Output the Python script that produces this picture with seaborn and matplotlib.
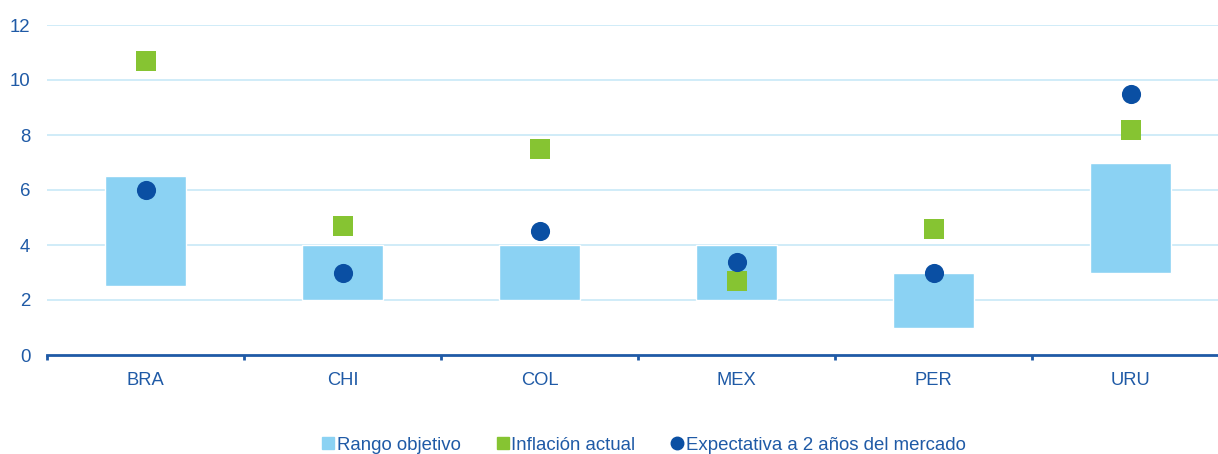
import numpy as np
import pandas as pd
import seaborn as sns
import matplotlib.pyplot as plt
from matplotlib.lines import Line2D
from matplotlib.ticker import FixedLocator

# Data
paises = ["BRA", "CHI", "COL", "MEX", "PER", "URU"]
rango_min = [2.5, 2.0, 2.0, 2.0, 1.0, 3.0]
rango_max = [6.5, 4.0, 4.0, 4.0, 3.0, 7.0]
inflacion = [10.7, 4.7, 7.5, 2.7, 4.6, 8.2]
expectativa = [6.0, 3.0, 4.5, 3.4, 3.0, 9.5]

azul_claro = "#8bd2f3"
verde = "#86c432"
azul = "#0a4fa3"
texto = "#1f5aa6"

df = pd.DataFrame({"pais": paises, "lo": rango_min,
                   "alto": np.array(rango_max) - np.array(rango_min),
                   "infl": inflacion, "exp": expectativa})

sns.set_style("white")
plt.rcParams["font.family"] = ["Liberation Sans", "DejaVu Sans"]

fig = plt.figure(figsize=(12.18, 4.54), dpi=100)
ax = fig.add_axes([47 / 1218, 99 / 454, 1 - 47 / 1218, 330 / 454])

# Target range as floating bars
sns.barplot(data=df, x="pais", y="alto", bottom=df["lo"].values, color=azul_claro,
            width=0.41, saturation=1, ax=ax, zorder=2)
sns.scatterplot(data=df, x="pais", y="infl", marker="s", s=190, color=verde,
                linewidth=0, ax=ax, zorder=3)
sns.scatterplot(data=df, x="pais", y="exp", marker="o", s=190, color=azul,
                linewidth=0, ax=ax, zorder=4)

ax.set_ylim(0, 12)
ax.set_xlim(-0.5, 5.444)
ax.set_yticks(range(0, 13, 2))
ax.set_xlabel("")
ax.set_ylabel("")

for y in range(2, 13, 2):
    ax.axhline(y, color="#c8e9f7", lw=1.2, zorder=0)

for s in ["top", "right", "left"]:
    ax.spines[s].set_visible(False)
ax.spines["bottom"].set_color(texto)
ax.spines["bottom"].set_linewidth(2)
ax.spines["bottom"].set_zorder(5)

ax.tick_params(axis="y", length=0, pad=12, labelsize=13.4, labelcolor=texto)
ax.tick_params(axis="x", which="major", length=0, pad=12, labelsize=13.2, labelcolor=texto)
ax.xaxis.set_minor_locator(FixedLocator(np.arange(-0.5, 6, 1)))
ax.tick_params(axis="x", which="minor", bottom=True, length=3.5, width=2,
               color=texto, direction="out")

handles = [
    Line2D([], [], marker="s", color=azul_claro, linestyle="", markersize=8.6),
    Line2D([], [], marker="s", color=verde, linestyle="", markersize=8.6),
    Line2D([], [], marker="o", color=azul, linestyle="", markersize=9),
]
labels = ["Rango objetivo", "Inflación actual", "Expectativa a 2 años del mercado"]
fig.legend(handles, labels, loc="center", bbox_to_anchor=(644 / 1218, 1 - 445 / 454),
           ncol=3, frameon=False, fontsize=13.4, labelcolor=texto,
           handlelength=0.65, handletextpad=0.15, columnspacing=1.9)

fig.savefig("out.png", dpi=100)
